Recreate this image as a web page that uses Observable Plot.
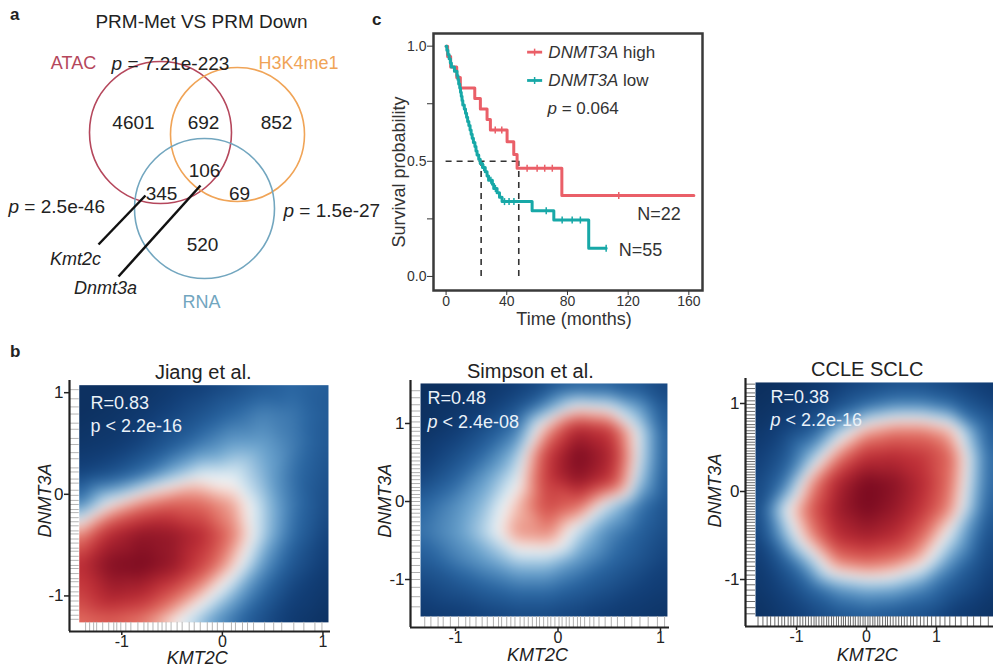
<!DOCTYPE html>
<html><head><meta charset="utf-8">
<script src="https://cdn.jsdelivr.net/npm/d3@7"></script>
<script src="https://cdn.jsdelivr.net/npm/@observablehq/plot@0.6"></script>
<style>
body{margin:0;background:#fff;}
#fig{position:relative;width:993px;height:672px;overflow:hidden;background:#fff;font-family:"Liberation Sans",Arial,Helvetica,sans-serif;color:#222;}
.plabel{position:absolute;font-weight:bold;font-size:17px;line-height:17px;}
</style></head><body><div id="fig"></div>
<script>
// ===== DATA =====
// Panel a: Venn
const vennTitle = "PRM-Met VS PRM Down";
const vennSets = ["ATAC", "H3K4me1", "RNA"];
const regionCounts = ["4601", "692", "852", "106", "345", "69", "520"];
const pairwiseP = ["*p* = 7.21e-223", "*p* = 2.5e-46", "*p* = 1.5e-27"];
const geneLabels = ["Kmt2c", "Dnmt3a"];

// Panel c: Kaplan-Meier
const kmGroups = ["DNMT3A high", "DNMT3A low"];
const kmN = ["N=22", "N=55"];
const kmPvalue = "*p* = 0.064";
const kmHighTime = [0, 1, 3, 7, 9.4, 18.9, 22.6, 27, 29.2, 40.2, 44.6, 46.8, 76.3, 163.3];
const kmHighSurv = [1, 0.955, 0.909, 0.864, 0.818, 0.773, 0.727, 0.682, 0.636, 0.585, 0.53, 0.47, 0.352, 0.352];
const kmHighCensor = [32.4, 36.7, 53.4, 60, 65, 70, 113.8];
const kmLowTime = [0,0.5,1.2,2,2.8,3.5,5.5,7.2,7.8,8.3,9,9.5,10,10.5,11,12,12.8,13.5,14.2,15,15.8,16.5,17.2,18,19,19.7,20.4,21.5,22.5,24,25.8,27,28,30.5,31.4,33.6,35.2,36.9,56.7,71,94,105.5];
const kmLowSurv = [1,0.982,0.964,0.945,0.927,0.909,0.891,0.873,0.855,0.836,0.818,0.8,0.782,0.764,0.745,0.727,0.709,0.691,0.673,0.655,0.636,0.618,0.6,0.582,0.564,0.545,0.527,0.509,0.491,0.473,0.455,0.436,0.418,0.4,0.382,0.363,0.344,0.325,0.285,0.245,0.122,0.122];
const kmLowCensor = [3.2, 24.8, 29.5, 32.5, 38.5, 41.5, 44.7, 66, 76.5, 83.1, 88.5, 105.5];
const kmMedians = [23.1, 47.9];
const kmTicksX = [0, 40, 80, 120, 160];
const kmTicksY = [0, 0.25, 0.5, 0.75, 1];

// Panel b: density grids (0 = low density/blue, 0.5 = white, 1 = high density/red)
const densityTicks = [-1, 0, 1];
const jiangX = [-1.423, -1.1, -0.8, -0.5, -0.2, 0.1, 0.4, 0.7, 1.055];
const jiangY = [1.074, 0.8, 0.5, 0.2, -0.1, -0.4, -0.7, -1.0, -1.26];
const jiangDensity = [
  [0.04, 0.04, 0.06, 0.09, 0.12, 0.16, 0.21, 0.25, 0.22],
  [0.04, 0.06, 0.09, 0.14, 0.19, 0.25, 0.30, 0.28, 0.21],
  [0.07, 0.09, 0.14, 0.21, 0.29, 0.35, 0.35, 0.29, 0.20],
  [0.14, 0.19, 0.27, 0.38, 0.46, 0.46, 0.38, 0.27, 0.18],
  [0.30, 0.50, 0.62, 0.68, 0.66, 0.58, 0.42, 0.28, 0.16],
  [0.60, 0.84, 0.94, 0.92, 0.82, 0.63, 0.42, 0.26, 0.13],
  [0.80, 0.98, 1.00, 0.92, 0.74, 0.54, 0.34, 0.20, 0.10],
  [0.74, 0.86, 0.82, 0.68, 0.53, 0.38, 0.24, 0.13, 0.07],
  [0.64, 0.67, 0.62, 0.50, 0.38, 0.27, 0.17, 0.09, 0.04]
];
const jiangRugX = [-1.36,-1.32,-1.28,-1.25,-1.19,-1.13,-1.08,-1.05,-1.01,-0.96,-0.91,-0.84,-0.78,-0.74,-0.69,-0.64,-0.6,-0.56,-0.51,-0.45,-0.4,-0.33,-0.28,-0.22,-0.15,-0.1,-0.05,0.01,0.09,0.13,0.2,0.25,0.31,0.42,0.51,0.59,0.71,0.81,0.92,0.99];
const jiangRugY = [1.03,0.94,0.86,0.79,0.7,0.64,0.55,0.49,0.41,0.35,0.26,0.22,0.15,0.11,0.04,-0.01,-0.06,-0.1,-0.15,-0.18,-0.23,-0.27,-0.31,-0.36,-0.39,-0.44,-0.48,-0.53,-0.56,-0.61,-0.65,-0.7,-0.73,-0.78,-0.83,-0.86,-0.91,-0.96,-1.0,-1.05,-1.1,-1.14,-1.19,-1.23];

const simpsonX = [-1.341, -1.0, -0.7, -0.4, -0.1, 0.2, 0.5, 0.8, 1.068];
const simpsonY = [1.513, 1.2, 0.9, 0.6, 0.3, -0.05, -0.4, -0.75, -1.1, -1.474];
const simpsonDensity = [
  [0.03, 0.04, 0.07, 0.11, 0.17, 0.21, 0.21, 0.19, 0.14],
  [0.04, 0.07, 0.11, 0.19, 0.35, 0.50, 0.47, 0.35, 0.19],
  [0.05, 0.11, 0.19, 0.30, 0.60, 0.86, 0.78, 0.45, 0.21],
  [0.09, 0.17, 0.27, 0.40, 0.76, 1.00, 0.86, 0.45, 0.21],
  [0.14, 0.24, 0.35, 0.46, 0.78, 0.95, 0.80, 0.41, 0.20],
  [0.24, 0.32, 0.40, 0.55, 0.74, 0.66, 0.43, 0.28, 0.18],
  [0.27, 0.34, 0.43, 0.60, 0.62, 0.43, 0.31, 0.23, 0.16],
  [0.21, 0.29, 0.35, 0.42, 0.42, 0.34, 0.26, 0.19, 0.13],
  [0.14, 0.19, 0.24, 0.28, 0.28, 0.23, 0.18, 0.13, 0.10],
  [0.08, 0.10, 0.13, 0.15, 0.15, 0.13, 0.10, 0.08, 0.06]
];
const simpsonRugX = [-1.3,-1.24,-1.17,-1.12,-1.05,-0.97,-0.9,-0.86,-0.8,-0.74,-0.69,-0.63,-0.58,-0.55,-0.5,-0.46,-0.42,-0.37,-0.33,-0.29,-0.25,-0.21,-0.18,-0.14,-0.1,-0.07,-0.03,0.01,0.04,0.08,0.11,0.15,0.19,0.22,0.26,0.31,0.35,0.4,0.46,0.52,0.58,0.65,0.72,0.8,0.88,0.97,1.04];
const simpsonRugY = [1.42,1.33,1.24,1.16,1.09,1.02,0.95,0.9,0.84,0.78,0.73,0.68,0.62,0.57,0.52,0.47,0.42,0.37,0.33,0.28,0.23,0.18,0.14,0.09,0.05,0.0,-0.05,-0.1,-0.15,-0.2,-0.26,-0.31,-0.37,-0.43,-0.5,-0.57,-0.65,-0.73,-0.82,-0.91,-1.0,-1.1,-1.22,-1.35];

const ccleX = [-1.586, -1.2, -0.8, -0.4, 0, 0.4, 0.8, 1.2, 1.6, 1.814];
const ccleY = [1.239, 1.0, 0.7, 0.4, 0.1, -0.2, -0.5, -0.8, -1.1, -1.42];
const ccleDensity = [
  [0.03, 0.04, 0.07, 0.11, 0.14, 0.17, 0.17, 0.14, 0.11, 0.09],
  [0.04, 0.07, 0.11, 0.17, 0.25, 0.30, 0.30, 0.25, 0.17, 0.13],
  [0.07, 0.13, 0.21, 0.40, 0.56, 0.62, 0.62, 0.55, 0.30, 0.20],
  [0.11, 0.19, 0.38, 0.62, 0.80, 0.82, 0.78, 0.66, 0.36, 0.23],
  [0.14, 0.27, 0.58, 0.85, 1.00, 0.95, 0.82, 0.64, 0.35, 0.23],
  [0.15, 0.45, 0.68, 0.90, 1.00, 0.92, 0.78, 0.60, 0.32, 0.20],
  [0.13, 0.36, 0.60, 0.82, 0.88, 0.82, 0.66, 0.45, 0.25, 0.16],
  [0.09, 0.21, 0.40, 0.62, 0.66, 0.62, 0.52, 0.33, 0.19, 0.13],
  [0.07, 0.14, 0.24, 0.34, 0.38, 0.37, 0.31, 0.21, 0.14, 0.09],
  [0.04, 0.09, 0.14, 0.19, 0.21, 0.19, 0.17, 0.11, 0.07, 0.05]
];
const ccleRugX = [-1.55,-1.48,-1.42,-1.37,-1.31,-1.26,-1.21,-1.17,-1.12,-1.08,-1.04,-0.99,-0.95,-0.91,-0.87,-0.83,-0.79,-0.75,-0.72,-0.68,-0.64,-0.61,-0.57,-0.54,-0.5,-0.47,-0.43,-0.4,-0.36,-0.33,-0.3,-0.26,-0.23,-0.19,-0.16,-0.12,-0.09,-0.05,-0.02,0.02,0.05,0.09,0.12,0.16,0.19,0.23,0.27,0.3,0.34,0.38,0.42,0.46,0.5,0.54,0.58,0.63,0.67,0.72,0.77,0.82,0.87,0.93,0.99,1.05,1.12,1.19,1.27,1.35,1.44,1.53,1.63,1.74];
const ccleRugY = [1.22,1.17,1.12,1.08,1.03,0.99,0.95,0.91,0.87,0.83,0.8,0.76,0.73,0.69,0.66,0.62,0.59,0.56,0.53,0.49,0.46,0.43,0.4,0.37,0.34,0.31,0.28,0.25,0.22,0.19,0.16,0.13,0.1,0.07,0.04,0.01,-0.02,-0.05,-0.08,-0.11,-0.14,-0.17,-0.2,-0.23,-0.26,-0.29,-0.32,-0.35,-0.39,-0.42,-0.45,-0.49,-0.52,-0.56,-0.6,-0.64,-0.68,-0.72,-0.76,-0.8,-0.85,-0.9,-0.95,-1.0,-1.06,-1.12,-1.18,-1.25,-1.32,-1.39];

const densityTitles = ["Jiang et al.", "Simpson et al.", "CCLE SCLC"];
const densityR = ["R=0.83", "R=0.48", "R=0.38"];
const densityP = ["p < 2.2e-16", "*p* < 2.4e-08", "*p* < 2.2e-16"];

// ===== STYLE / LAYOUT =====
const FONT = '"Liberation Sans", Arial, Helvetica, sans-serif';
const RED = "#ea5f68", TEAL = "#17a8a7";
const vennColors = ["#b5475c", "#f0a457", "#72a6bf"];
const densityStops = [0, 0.12, 0.25, 0.36, 0.45, 0.5, 0.56, 0.66, 0.8, 1];
const densityColors = ["#0a2a55", "#123f78", "#2a66a2", "#6ea6d0", "#d6e8f2", "#f8f6f5", "#f1b3a4", "#e0675c", "#bf2f37", "#7a0a20"];

const fig = document.getElementById("fig");
function place(node, left, top) {
  node.style.position = "absolute";
  node.style.left = left + "px";
  node.style.top = top + "px";
  fig.appendChild(node);
}
function rich(root) {
  root.querySelectorAll("text").forEach(t => {
    const s = t.textContent;
    if (!s.includes("*")) return;
    const parts = s.split("*");
    t.textContent = "";
    parts.forEach((p, i) => {
      if (!p) return;
      const ts = document.createElementNS("http://www.w3.org/2000/svg", "tspan");
      if (i % 2 === 1) ts.setAttribute("font-style", "italic");
      ts.textContent = p;
      t.appendChild(ts);
    });
  });
}
function label(txt, left, top) {
  const d = document.createElement("div");
  d.className = "plabel"; d.textContent = txt;
  d.style.left = left + "px"; d.style.top = top + "px";
  fig.appendChild(d);
}

// ===== PANEL a: VENN =====
const circleLayout = [
  {cx: 160, cy: 132, r: 71},
  {cx: 237, cy: 134, r: 67},
  {cx: 204, cy: 208, r: 70}
];
const circles = vennSets.map((s, i) => ({...circleLayout[i], color: vennColors[i]}));
const setLabelPos = [[73, 63], [298, 63], [201, 302]];
const countPos = [[133, 122], [203, 122], [276, 122], [204, 170], [161, 193], [239, 193], [202, 244]];
const pPos = [[170, 63, "middle"], [8, 206, "start"], [283, 210, "start"]];
const genePos = [[75, 259], [105, 288]];
const geneLines = [
  {x1: 145, y1: 195, x2: 98, y2: 244},
  {x1: 200, y1: 185, x2: 118, y2: 276}
];

const venn = Plot.plot({
  width: 380, height: 335, margin: 0,
  x: {domain: [0, 380], range: [0, 380], axis: null},
  y: {domain: [0, 335], range: [0, 335], axis: null},
  style: {fontFamily: FONT, background: "transparent", overflow: "visible"},
  marks: [
    ...circles.map(c => Plot.dot([c], {x: "cx", y: "cy", r: c.r, stroke: c.color, fill: "none", strokeWidth: 1.6})),
    Plot.link(geneLines, {x1: "x1", y1: "y1", x2: "x2", y2: "y2", stroke: "#111", strokeWidth: 2.5}),
    Plot.text([vennTitle], {x: 201, y: 21, fontSize: 19, fill: "#222"}),
    ...vennSets.map((s, i) => Plot.text([s], {x: setLabelPos[i][0], y: setLabelPos[i][1], fontSize: 18, fill: vennColors[i]})),
    Plot.text(regionCounts, {x: (d, i) => countPos[i][0], y: (d, i) => countPos[i][1], fontSize: 19, fill: "#222"}),
    ...pairwiseP.map((s, i) => Plot.text([s], {x: pPos[i][0], y: pPos[i][1], textAnchor: pPos[i][2], fontSize: 19, fill: "#222"})),
    Plot.text(geneLabels, {x: (d, i) => genePos[i][0], y: (d, i) => genePos[i][1], fontSize: 18, fontStyle: "italic", fill: "#222"})
  ]
});
rich(venn);
place(venn, 0, 0);

// ===== PANEL c: KAPLAN-MEIER =====
const highRows = kmHighTime.map((t, i) => ({t, s: kmHighSurv[i]}));
const lowRows = kmLowTime.map((t, i) => ({t, s: kmLowSurv[i]}));
function survAt(times, survs, t) {
  let k = 0;
  for (let i = 0; i < times.length; i++) if (times[i] <= t) k = i;
  return survs[k];
}
const highCens = kmHighCensor.map(t => ({t, s: survAt(kmHighTime, kmHighSurv, t)}));
const lowCens = kmLowCensor.map(t => ({t, s: survAt(kmLowTime, kmLowSurv, t)}));
const vtick = {draw(ctx, size) { const r = Math.sqrt(size / Math.PI); ctx.moveTo(0, -r); ctx.lineTo(0, r); }};
const legendRows = [
  {x1: 53.4, x2: 63.3, y: 0.974, color: RED, text: "*DNMT3A* high"},
  {x1: 53.4, x2: 63.3, y: 0.851, color: TEAL, text: "*DNMT3A* low"}
];
const nPos = [[126, 0.272], [113.8, 0.113]];

const km = Plot.plot({
  width: 340, height: 340, marginLeft: 53, marginRight: 18, marginTop: 33, marginBottom: 50,
  x: {domain: [-8.3, 169]}, y: {domain: [-0.061, 1.055]},
  style: {fontFamily: FONT, fontSize: "14px", color: "#333", background: "transparent", overflow: "visible"},
  marks: [
    Plot.ruleY([0.5], {x1: 0, x2: d3.max(kmMedians), stroke: "#333", strokeWidth: 1.6, strokeDasharray: "6,5"}),
    Plot.ruleX(kmMedians, {y1: 0, y2: 0.5, stroke: "#333", strokeWidth: 1.6, strokeDasharray: "6,5"}),
    Plot.line(highRows, {x: "t", y: "s", curve: "step-after", stroke: RED, strokeWidth: 3}),
    Plot.line(lowRows, {x: "t", y: "s", curve: "step-after", stroke: TEAL, strokeWidth: 3}),
    Plot.dot(highCens, {x: "t", y: "s", symbol: vtick, r: 3.5, stroke: RED, fill: "none", strokeWidth: 1.5}),
    Plot.dot(lowCens, {x: "t", y: "s", symbol: vtick, r: 3.5, stroke: TEAL, fill: "none", strokeWidth: 1.5}),
    Plot.frame({stroke: "#3a3a3a", strokeWidth: 2.5}),
    Plot.axisX(kmTicksX, {tickSize: 5, tickPadding: 1, label: null, fontSize: 14, stroke: "#333"}),
    Plot.axisY(kmTicksY, {tickSize: 6, tickPadding: 1, label: null, fontSize: 14, stroke: "#333",
      tickFormat: d => (d === 0 || d === 0.5 || d === 1) ? d.toFixed(1) : ""}),
    Plot.text(["Survival probability"], {frameAnchor: "left", dx: -34, dy: 10, rotate: -90, textAnchor: "middle", lineAnchor: "middle", fontSize: 18, fill: "#333"}),
    Plot.text(["Time (months)"], {frameAnchor: "bottom", dx: 6, dy: 29, lineAnchor: "middle", fontSize: 18, fill: "#333"}),
    ...legendRows.map(l => Plot.link([l], {x1: "x1", x2: "x2", y1: "y", y2: "y", stroke: l.color, strokeWidth: 2.8})),
    ...legendRows.map(l => Plot.dot([l], {x: d => (d.x1 + d.x2) / 2, y: "y", symbol: vtick, r: 3.5, stroke: l.color, strokeWidth: 1.5})),
    Plot.text(legendRows, {x: 67.4, y: "y", text: "text", textAnchor: "start", fontSize: 17, fill: "#333"}),
    Plot.text([kmPvalue], {x: 66.8, y: 0.73, textAnchor: "start", fontSize: 17, fill: "#333"}),
    Plot.text(kmN, {x: (d, i) => nPos[i][0], y: (d, i) => nPos[i][1], textAnchor: "start", fontSize: 18, fill: "#333"})
  ]
});
rich(km);
place(km, 380, 0);

// ===== PANEL b: DENSITY =====
function densityPanel(c) {
  const pts = [];
  c.gy.forEach((yv, i) => c.gx.forEach((xv, j) => pts.push({x: xv, y: yv, v: c.grid[i][j]})));
  const gx0 = d3.min(c.gx), gx1 = d3.max(c.gx), gy0 = d3.min(c.gy), gy1 = d3.max(c.gy);
  const svg = Plot.plot({
    width: c.width, height: c.height,
    marginLeft: c.mL, marginRight: c.mR, marginTop: c.mT, marginBottom: c.mB,
    x: {domain: c.xDom}, y: {domain: c.yDom},
    color: {type: "linear", domain: densityStops, range: densityColors, interpolate: "rgb", clamp: true},
    style: {fontFamily: FONT, fontSize: "17px", color: "#222", background: "transparent", overflow: "visible"},
    marks: [
      Plot.raster(pts, {x: "x", y: "y", fill: "v", interpolate: "barycentric", blur: 6, x1: gx0, x2: gx1, y1: gy0, y2: gy1}),
      Plot.ruleX(c.rugX, {y1: c.yDom[0], y2: gy0, stroke: c.rugColor, strokeWidth: 1}),
      Plot.ruleY(c.rugY, {x1: c.xDom[0], x2: gx0, stroke: c.rugColor, strokeWidth: 1}),
      Plot.ruleX([c.xDom[0]], {stroke: "#222", strokeWidth: 2.2}),
      Plot.ruleY([c.yDom[0]], {stroke: "#222", strokeWidth: 2.2}),
      Plot.axisX(densityTicks, {tickFormat: d => String(d), tickSize: 4, tickPadding: 0, label: null, fontSize: 16, strokeWidth: 1.5}),
      Plot.axisY(densityTicks, {tickFormat: d => String(d), tickSize: 5, tickPadding: 1, label: null, fontSize: 17, strokeWidth: 1.5}),
      Plot.text([c.title], {x: c.titleX, y: c.yDom[1], dy: c.titleDy, fontSize: 20, fill: "#222"}),
      Plot.text(["KMT2C"], {x: c.labelX, y: c.yDom[0], dy: c.xLabelDy, fontSize: 18, fontStyle: "italic", fill: "#222"}),
      Plot.text(["DNMT3A"], {x: c.xDom[0], y: c.yLabelY, dx: c.yLabelDx, rotate: -90, fontSize: 18, fontStyle: "italic", fill: "#222"}),
      Plot.text([c.R], {frameAnchor: "top-left", dx: c.textDx, dy: c.textDy[0], textAnchor: "start", lineAnchor: "middle", fontSize: 18, fill: "#eaf1f8"}),
      Plot.text([c.P], {frameAnchor: "top-left", dx: c.textDx, dy: c.textDy[1], textAnchor: "start", lineAnchor: "middle", fontSize: 18, fill: "#eaf1f8"})
    ]
  });
  rich(svg);
  place(svg, c.left, c.top);
}

densityPanel({left: 0, top: 345, width: 340, height: 327, mL: 69, mR: 10, mT: 35, mB: 41,
  xDom: [-1.52, 1.075], yDom: [-1.35, 1.12], gx: jiangX, gy: jiangY, grid: jiangDensity,
  rugX: jiangRugX, rugY: jiangRugY, rugColor: "#b5b5b5",
  title: densityTitles[0], titleX: -0.19, titleDy: -8, labelX: -0.25, xLabelDy: 27,
  yLabelY: -0.06, yLabelDx: -24, R: densityR[0], P: densityP[0], textDx: 21, textDy: [23, 46]});
densityPanel({left: 340, top: 345, width: 335, height: 327, mL: 70, mR: 6, mT: 35, mB: 45,
  xDom: [-1.439, 1.088], yDom: [-1.615, 1.551], gx: simpsonX, gy: simpsonY, grid: simpsonDensity,
  rugX: simpsonRugX, rugY: simpsonRugY, rugColor: "#b0b0b0",
  title: densityTitles[1], titleX: -0.27, titleDy: -9, labelX: -0.2, xLabelDy: 28,
  yLabelY: 0.01, yLabelDx: -25, R: densityR[1], P: densityP[1], textDx: 17, textDy: [18, 42]});
densityPanel({left: 680, top: 345, width: 313, height: 327, mL: 65, mR: 0, mT: 33, mB: 46,
  xDom: [-1.729, 1.814], yDom: [-1.534, 1.284], gx: ccleX, gy: ccleY, grid: ccleDensity,
  rugX: ccleRugX, rugY: ccleRugY, rugColor: "#6a6a6a",
  title: densityTitles[2], titleX: 0.01, titleDy: -9, labelX: 0.01, xLabelDy: 29,
  yLabelY: 0.01, yLabelDx: -30, R: densityR[2], P: densityP[2], textDx: 25, textDy: [19, 42]});

// panel letters
label("a", 10, 6);
label("b", 10, 343);
label("c", 372, 11);
</script></body></html>
